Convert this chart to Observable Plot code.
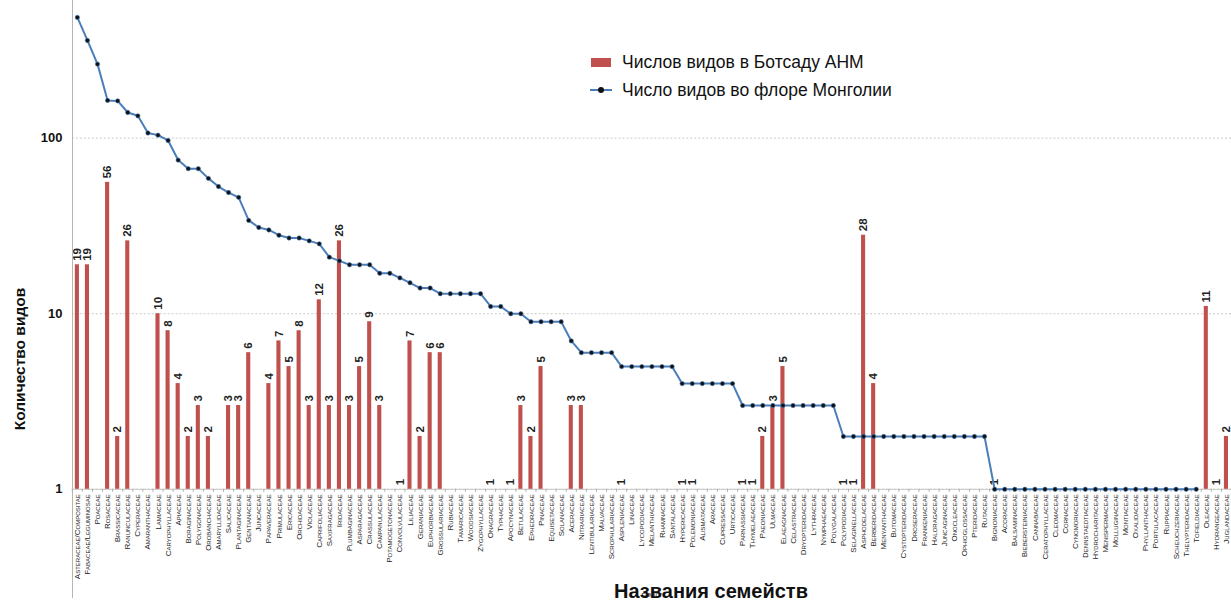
<!DOCTYPE html>
<html>
<head>
<meta charset="utf-8">
<script src="https://cdn.jsdelivr.net/npm/d3@7"></script>
<script src="https://cdn.jsdelivr.net/npm/@observablehq/plot@0.6"></script>
<style>
  html, body { margin: 0; padding: 0; background: #fff; overflow: hidden; }
  #wrap { position: relative; width: 1231px; height: 601px; overflow: hidden; font-family: "Liberation Sans", Arial, sans-serif; }
  #chart { position: absolute; left: 0; top: 0; }
  .vline { position: absolute; left: 72px; top: 0; width: 0; height: 598px; border-left: 1px solid #b5b5b5; }
  .ytitle { position: absolute; left: 20px; top: 359px; transform: translate(-50%, -50%) rotate(-90deg); font-weight: bold; font-size: 15.5px; color: #111; white-space: nowrap; }
  .xtitle { position: absolute; left: 711px; top: 591px; transform: translate(-50%, -50%); font-weight: bold; font-size: 20px; color: #111; white-space: nowrap; }
  .legend { position: absolute; left: 590px; top: 49px; font-size: 17.5px; color: #111; }
  .legend .row { position: relative; height: 28px; padding-left: 32px; line-height: 26px; white-space: nowrap; }
  .legend .sw-bar { position: absolute; left: 1px; top: 9px; width: 20px; height: 9px; background: #c0504d; }
  .legend .sw-line { position: absolute; left: 0; top: 12px; width: 22px; height: 2px; background: #4a7ebb; }
  .legend .sw-dot { position: absolute; left: 8px; top: 10px; width: 6px; height: 6px; border-radius: 50%; background: #111; }
</style>
</head>
<body>
<div id="wrap">
  <div id="chart"></div>
  <div class="vline"></div>
  <div class="ytitle">Количество видов</div>
  <div class="xtitle">Названия семейств</div>
  <div class="legend">
    <div class="row"><span class="sw-bar"></span>Числов видов в Ботсаду АНМ</div>
    <div class="row"><span class="sw-line"></span><span class="sw-dot"></span>Число видов во флоре Монголии</div>
  </div>
</div>
<script>
const families = [
  "Asteraceae/Compositae","Fabaceae/Leguminosae","Poaceae","Rosaceae","Brassicaceae","Ranunculaceae",
  "Cyperaceae","Amaranthaceae","Lamiaceae","Caryophyllaceae","Apiaceae","Boraginaceae","Polygonaceae",
  "Orobanchaceae","Amaryllidaceae","Salicaceae","Plantaginaceae","Gentianaceae","Juncaceae","Papaveraceae",
  "Primulaceae","Ericaceae","Orchidaceae","Violaceae","Caprifoliaceae","Saxifragaceae","Iridaceae",
  "Plumbaginaceae","Asparagaceae","Crassulaceae","Campanulaceae","Potamogetonaceae","Convolvulaceae",
  "Liliaceae","Geraniaceae","Euphorbiaceae","Grossulariaceae","Rubiaceae","Tamaricaceae","Woodsiaceae",
  "Zygophyllaceae","Onagraceae","Typhaceae","Apocynaceae","Betulaceae","Ephedraceae","Pinaceae",
  "Equisetaceae","Solanaceae","Aceraceae","Nitrariaceae","Lentibulariaceae","Malvaceae","Scrophulariaceae",
  "Aspleniaceae","Linaceae","Lycopodiaceae","Melanthiaceae","Rhamnaceae","Santalaceae","Hypericaceae",
  "Polemoniaceae","Alismataceae","Araceae","Cupressaceae","Urticaceae","Parnassiaceae","Thymelaeaceae",
  "Paeoniaceae","Ulmaceae","Elaeagnaceae","Celastraceae","Dryopteridaceae","Lythraceae","Nymphaeaceae",
  "Polygalaceae","Polypodiaceae","Selaginellaceae","Asphodelaceae","Berberidaceae","Menyanthaceae",
  "Butomaceae","Cystopteridaceae","Droseraceae","Frankeniaceae","Haloragaceae","Juncaginaceae",
  "Onocleaceae","Ophioglossaceae","Pteridaceae","Rutaceae","Bignoniaceae","Acoraceae","Balsaminaceae",
  "Biebersteiniaceae","Cannabaceae","Ceratophyllaceae","Cleomaceae","Cornaceae","Cynomoriaceae",
  "Dennstaedtiaceae","Hydrocharitaceae","Menispermaceae","Molluginaceae","Montiaceae","Oxalidaceae",
  "Phyllanthaceae","Portulacaceae","Ruppiaceae","Scheuchzeriaceae","Thelypteridaceae","Tofieldiaceae",
  "Oleaceae","Hydrangeaceae","Juglandaceae"
];

// Species in the Botanical Garden (0 = none)
const gardenCounts = [
  19,19,0,56,2,26, 0,0,10,8,4,2,3, 2,0,3,3,6,0,4,
  7,5,8,3,12,3,26, 3,5,9,3,0,1, 7,2,6,6,0,0,0,
  0,1,0,1,3,2,5, 0,0,3,3,0,0,0, 1,0,0,0,0,0,1,
  1,0,0,0,0,1,1, 2,3,5,0,0,0,0, 0,1,1,28,4,0,
  0,0,0,0,0,0, 0,0,0,0,1,0,0, 0,0,0,0,0,0,
  0,0,0,0,0,0, 0,0,0,0,0,0, 11,1,2
];

// Species in the flora of Mongolia (null = not present)
const mongoliaCounts = [
  487,360,264,164,163,140, 134,107,104,97,75,67,67, 59,53,49,46,34,31,30,
  28,27,27,26,25,21,20, 19,19,19,17,17,16, 15,14,14,13,13,13,13,
  13,11,11,10,10,9,9, 9,9,7,6,6,6,6, 5,5,5,5,5,5,4,
  4,4,4,4,4,3,3, 3,3,3,3,3,3,3, 3,2,2,2,2,2,
  2,2,2,2,2,2, 2,2,2,2,1,1,1, 1,1,1,1,1,1,
  1,1,1,1,1,1, 1,1,1,1,1,1, null,null,null
];

const yTicks = [1, 10, 100];

const rows = families.map((f, i) => ({family: f, garden: gardenCounts[i], mongolia: mongoliaCounts[i]}));
const bars = rows.filter(d => d.garden > 0);
const linePts = rows.filter(d => d.mongolia != null);

const chart = Plot.plot({
  width: 1234,
  height: 601,
  marginLeft: 72,
  marginRight: 0,
  marginTop: 0,
  marginBottom: 111,
  style: {fontFamily: "'Liberation Sans', Arial, sans-serif", background: "transparent"},
  x: {type: "band", domain: families, padding: 0, round: false, axis: null},
  y: {type: "log", domain: [1, 608], axis: null},
  marks: [
    Plot.ruleY(yTicks, {stroke: "#c8c8c8", strokeDasharray: "2,2"}),
    Plot.ruleY([1], {stroke: "#c8c8c8"}),
    Plot.axisX({tickSize: 3, tickFormat: () => "", dx: -5.05, stroke: "#b0b0b0", fill: "none"}),
    Plot.axisX({
      tickSize: 0, tickPadding: 5, tickRotate: -90,
      fontSize: 8, fontVariant: "small-caps", fill: "#222",
      tickFormat: d => d
    }),
    Plot.axisY({
      ticks: yTicks, tickSize: 0, tickPadding: 10,
      tickFormat: d => String(d), fontSize: 13, fontWeight: "bold", fill: "#111"
    }),
    Plot.barY(bars, {x: "family", y1: 1, y2: "garden", fill: "#c0504d", insetLeft: 3, insetRight: 3}),
    Plot.text(bars, {
      x: "family", y: "garden", text: d => String(d.garden),
      rotate: -90, textAnchor: "start", dy: -4,
      fontSize: 11.5, fontWeight: "bold", fill: "#222"
    }),
    Plot.line(linePts, {x: "family", y: "mongolia", stroke: "#4a7ebb", strokeWidth: 2}),
    Plot.dot(linePts, {x: "family", y: "mongolia", r: 2.2, fill: "#111", stroke: "#4a7ebb", strokeWidth: 0.6})
  ]
});
document.getElementById("chart").appendChild(chart);
</script>
</body>
</html>
